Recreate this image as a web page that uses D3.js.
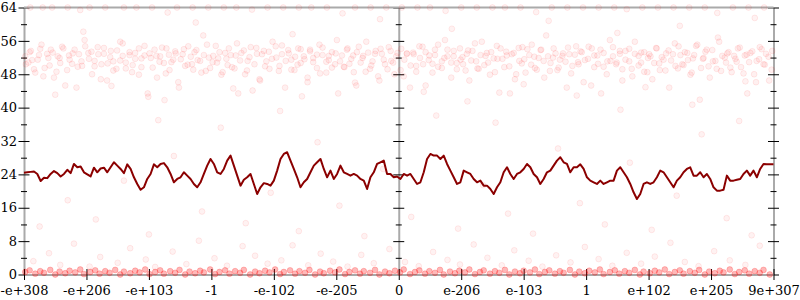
<!DOCTYPE html>
<html>
<head>
<meta charset="utf-8">
<script src="https://cdn.jsdelivr.net/npm/d3@7"></script>
<style>
    body { margin: 0; background: #fff; }
    svg { display: block; }
</style>
</head>
<body>
<svg id="chart" width="800" height="300"></svg>
<script>
// DATA
var xTickLabels = ["-e+308", "-e+206", "-e+103", "-1", "-e-102", "-e-205", "0",
    "e-206", "e-103", "1", "e+102", "e+205", "9e+307"];
var yTicks = [0, 8, 16, 24, 32, 40, 48, 56, 64];
var yMinorTicks = [4, 12, 20, 28, 36, 44, 52, 60];

// moving average, sampled evenly from left edge to right edge
var lineValues = [
    24.4, 24.5, 24.6, 24.7, 24.1, 22.4, 23.2, 23.1, 24.1, 24.8,
    24.3, 23.5, 24.1, 25.1, 24.3, 26.5, 25.7, 25.9, 24.5, 24.0,
    23.5, 25.6, 24.5, 25.4, 25.6, 24.5, 25.7, 26.9, 26.1, 25.3,
    24.3, 26.4, 25.3, 23.3, 21.7, 20.3, 20.9, 22.9, 24.1, 26.4,
    25.7, 26.5, 26.7, 25.7, 24.1, 22.1, 22.9, 23.3, 24.5, 23.7,
    22.9, 21.7, 20.9, 22.1, 24.1, 26.1, 27.7, 26.5, 24.5, 24.1,
    25.3, 27.3, 28.5, 26.1, 23.7, 21.3, 22.7, 23.3, 24.1, 21.7,
    19.3, 20.9, 21.9, 21.7, 21.3, 22.5, 24.9, 27.7,
    28.9, 29.3, 27.3, 25.3, 23.3, 20.9, 22.1, 22.9, 24.5, 26.1,
    26.9, 27.7, 25.3, 23.3, 24.9, 22.9, 24.1, 26.1, 24.5, 24.1,
    23.7, 24.1, 23.7, 22.9, 22.5, 20.5, 23.3, 24.5, 26.5, 26.9,
    27.3, 24.1, 24.1, 23.3, 23.5, 22.9, 24.1, 23.7, 24.1, 22.9,
    21.7, 22.1, 24.5, 27.7, 28.9, 28.5, 28.5, 27.7, 28.5, 26.5,
    24.9, 23.3, 21.7, 22.1, 24.9, 24.5, 24.1, 22.9, 22.1, 22.5,
    21.3, 21.3, 20.5, 19.3, 20.9, 22.1, 24.5, 25.7, 24.1, 22.9,
    24.1, 24.5, 25.3, 26.5, 25.7,
    24.1, 23.3, 21.7, 22.9, 24.5, 24.9, 26.1, 27.3, 28.1, 26.9,
    26.5, 24.5, 25.7, 25.7, 26.4, 25.3, 23.3, 22.5, 22.1, 21.7,
    22.5, 21.7, 22.1, 22.5, 22.5, 24.9, 25.7, 24.5, 23.3, 21.7,
    19.7, 18.1, 19.3, 21.7, 22.1, 21.7, 22.1, 23.3, 24.9, 24.5,
    23.3, 22.1, 20.9, 22.5, 23.3, 24.5, 25.3, 25.7, 23.7, 23.7,
    24.5, 23.3, 24.1, 22.9, 20.9, 20.1, 20.1, 20.3, 23.7, 22.5,
    22.5, 22.7, 22.9, 24.1, 24.9, 23.7, 24.9, 23.3, 25.3, 26.5,
    26.4, 26.4, 26.4
];

// dense cloud around 52
var bandPoints = [
    [-5.98, 52.3], [-5.93, 50.8], [-5.89, 53.6], [-5.84, 49.2], [-5.78, 51.5], [-5.74, 54.1], [-5.69, 47.5], [-5.63, 52.9], [-5.59, 50.1], [-5.54, 53.2],
    [-5.48, 48.6], [-5.43, 51.9], [-5.39, 54.6], [-5.34, 45.3], [-5.28, 52.5], [-5.23, 50.5], [-5.19, 53.9], [-5.14, 49.8], [-5.08, 51.1], [-5.03, 56.2],
    [-4.96, 51.7], [-4.92, 53.4], [-4.87, 49.9], [-4.81, 52.8], [-4.77, 46.8], [-4.72, 54.3], [-4.66, 50.6], [-4.62, 52.1], [-4.57, 48.9], [-4.51, 53.7],
    [-4.46, 51.3], [-4.42, 55.4], [-4.37, 49.4], [-4.31, 52.6], [-4.26, 50.2], [-4.22, 53.1], [-4.16, 47.9], [-4.12, 51.8], [-4.07, 54.8], [-4.01, 42.6],
    [-3.99, 53.0], [-3.94, 49.6], [-3.88, 52.4], [-3.83, 51.0], [-3.79, 54.4], [-3.73, 48.2], [-3.68, 52.7], [-3.64, 50.9], [-3.58, 53.5], [-3.53, 46.1],
    [-3.49, 51.6], [-3.44, 54.0], [-3.38, 50.3], [-3.33, 52.2], [-3.29, 49.1], [-3.24, 53.8], [-3.18, 51.2], [-3.13, 57.3], [-3.09, 48.8], [-3.04, 52.0],
    [-2.98, 50.9], [-2.93, 54.8], [-2.89, 51.8], [-2.84, 47.9], [-2.78, 53.1], [-2.74, 50.2], [-2.69, 52.6], [-2.63, 49.4], [-2.59, 55.4], [-2.54, 51.3],
    [-2.48, 53.7], [-2.43, 48.9], [-2.39, 52.1], [-2.34, 44.1], [-2.28, 54.3], [-2.23, 46.8], [-2.19, 52.8], [-2.14, 49.9], [-2.08, 53.4], [-2.03, 51.7],
    [-1.96, 52.0], [-1.92, 48.8], [-1.87, 54.9], [-1.81, 51.2], [-1.77, 53.8], [-1.72, 49.1], [-1.66, 52.2], [-1.62, 50.3], [-1.57, 54.0], [-1.51, 51.6],
    [-1.46, 46.1], [-1.42, 53.5], [-1.37, 50.9], [-1.31, 52.7], [-1.26, 48.2], [-1.22, 54.4], [-1.16, 51.0], [-1.12, 52.4], [-1.07, 49.6], [-1.01, 53.0],
    [-0.99, 56.2], [-0.94, 51.1], [-0.88, 49.8], [-0.83, 53.9], [-0.79, 50.5], [-0.73, 52.5], [-0.68, 45.3], [-0.64, 54.6], [-0.58, 51.9], [-0.53, 48.6],
    [-0.49, 53.2], [-0.44, 50.1], [-0.38, 52.9], [-0.33, 47.5], [-0.29, 54.1], [-0.24, 51.5], [-0.18, 49.2], [-0.13, 53.6], [-0.09, 50.8], [-0.04, 52.3],
    [0.04, 54.1], [0.08, 47.5], [0.13, 52.9], [0.19, 50.1], [0.23, 53.2], [0.28, 48.6], [0.34, 51.9], [0.38, 54.6], [0.43, 45.3], [0.49, 52.5],
    [0.54, 50.5], [0.58, 53.9], [0.63, 49.8], [0.69, 51.1], [0.74, 56.2], [0.78, 52.3], [0.84, 50.8], [0.88, 53.6], [0.93, 49.2], [0.99, 51.5],
    [1.02, 52.1], [1.07, 48.9], [1.11, 53.7], [1.16, 51.3], [1.22, 55.4], [1.26, 49.4], [1.31, 52.6], [1.37, 50.2], [1.41, 53.1], [1.46, 47.9],
    [1.52, 51.8], [1.57, 54.8], [1.61, 43.6], [1.66, 51.7], [1.72, 53.4], [1.77, 49.9], [1.81, 52.8], [1.86, 46.8], [1.92, 54.3], [1.97, 50.6],
    [2.01, 51.6], [2.06, 54.0], [2.12, 50.3], [2.17, 52.2], [2.21, 49.1], [2.27, 53.8], [2.32, 51.2], [2.36, 57.3], [2.42, 48.8], [2.47, 52.0],
    [2.51, 53.0], [2.56, 49.6], [2.62, 52.4], [2.67, 51.0], [2.71, 54.4], [2.76, 48.2], [2.82, 52.7], [2.87, 50.9], [2.91, 53.5], [2.96, 46.1],
    [3.04, 54.6], [3.08, 45.3], [3.13, 52.5], [3.19, 50.5], [3.23, 53.9], [3.28, 49.8], [3.34, 51.1], [3.38, 56.2], [3.43, 52.3], [3.49, 50.8],
    [3.54, 53.6], [3.58, 49.2], [3.63, 51.5], [3.69, 54.1], [3.74, 47.5], [3.78, 52.9], [3.84, 50.1], [3.88, 53.2], [3.93, 48.6], [3.99, 51.9],
    [4.01, 52.8], [4.06, 46.8], [4.12, 54.3], [4.17, 50.6], [4.21, 52.1], [4.27, 48.9], [4.32, 53.7], [4.36, 51.3], [4.42, 55.4], [4.47, 49.4],
    [4.51, 52.6], [4.56, 50.2], [4.62, 53.1], [4.67, 47.9], [4.71, 51.8], [4.76, 54.8], [4.82, 41.9], [4.87, 51.7], [4.91, 53.4], [4.96, 49.9],
    [5.02, 53.8], [5.07, 51.2], [5.11, 56.8], [5.16, 48.8], [5.22, 52.0], [5.26, 53.0], [5.31, 49.6], [5.37, 52.4], [5.41, 51.0], [5.46, 54.4],
    [5.52, 48.2], [5.57, 52.7], [5.61, 50.9], [5.66, 53.5], [5.72, 46.1], [5.77, 51.6], [5.81, 54.0], [5.86, 50.3], [5.92, 52.2], [5.97, 49.1]
];

var bandPoints2 = [
    [-5.97, 50.4], [-5.91, 53.3], [-5.87, 51.4], [-5.82, 48.4], [-5.76, 52.6], [-5.72, 55.1], [-5.67, 49.5], [-5.61, 51.9], [-5.57, 53.9], [-5.52, 47.2],
    [-5.46, 52.3], [-5.42, 50.7], [-5.37, 54.2], [-5.31, 49.0], [-5.27, 51.5], [-5.22, 53.0], [-5.16, 44.8], [-5.12, 52.8], [-5.07, 50.0], [-5.02, 54.7],
    [-4.97, 53.1], [-4.91, 48.0], [-4.87, 51.2], [-4.82, 54.5], [-4.76, 50.4], [-4.72, 52.9], [-4.67, 46.5], [-4.61, 53.6], [-4.57, 51.1], [-4.52, 49.3],
    [-4.46, 55.8], [-4.42, 52.4], [-4.37, 50.8], [-4.31, 53.3], [-4.27, 48.5], [-4.22, 51.7], [-4.16, 54.2], [-4.12, 49.7], [-4.07, 52.5], [-4.02, 43.4],
    [-3.97, 51.9], [-3.91, 53.9], [-3.87, 47.2], [-3.82, 52.3], [-3.76, 50.7], [-3.72, 54.2], [-3.67, 49.0], [-3.61, 51.5], [-3.57, 53.0], [-3.52, 44.8],
    [-3.46, 52.8], [-3.42, 50.0], [-3.37, 54.7], [-3.31, 50.4], [-3.27, 53.3], [-3.22, 51.4], [-3.16, 48.4], [-3.12, 52.6], [-3.07, 55.1], [-3.02, 49.5],
    [-2.97, 52.4], [-2.91, 50.8], [-2.87, 53.3], [-2.82, 48.5], [-2.76, 51.7], [-2.72, 54.2], [-2.67, 49.7], [-2.61, 52.5], [-2.57, 43.4], [-2.52, 53.1],
    [-2.46, 48.0], [-2.42, 51.2], [-2.37, 54.5], [-2.31, 50.4], [-2.27, 52.9], [-2.22, 46.5], [-2.16, 53.6], [-2.12, 51.1], [-2.07, 49.3], [-2.02, 55.8],
    [-1.97, 54.7], [-1.91, 50.0], [-1.87, 52.8], [-1.82, 44.8], [-1.76, 53.0], [-1.72, 51.5], [-1.67, 49.0], [-1.61, 54.2], [-1.57, 50.7], [-1.52, 52.3],
    [-1.46, 47.2], [-1.42, 53.9], [-1.37, 51.9], [-1.31, 49.5], [-1.27, 55.1], [-1.22, 52.6], [-1.16, 48.4], [-1.12, 51.4], [-1.07, 53.3], [-1.02, 50.4],
    [-0.97, 43.4], [-0.91, 52.5], [-0.87, 49.7], [-0.82, 54.2], [-0.76, 51.7], [-0.72, 48.5], [-0.67, 53.3], [-0.61, 50.8], [-0.57, 52.4], [-0.52, 55.8],
    [-0.46, 49.3], [-0.42, 51.1], [-0.37, 53.6], [-0.31, 46.5], [-0.27, 52.9], [-0.22, 50.4], [-0.16, 54.5], [-0.12, 51.2], [-0.07, 48.0], [-0.02, 53.1],
    [0.03, 49.0], [0.09, 51.5], [0.13, 53.0], [0.18, 44.8], [0.24, 52.8], [0.28, 50.0], [0.33, 54.7], [0.39, 50.4], [0.43, 53.3], [0.48, 51.4],
    [0.54, 48.4], [0.58, 52.6], [0.63, 55.1], [0.69, 49.5], [0.73, 51.9], [0.78, 53.9], [0.84, 47.2], [0.88, 52.3], [0.93, 50.7], [0.98, 54.2],
    [1.03, 50.4], [1.09, 52.9], [1.13, 46.5], [1.18, 53.6], [1.24, 51.1], [1.28, 49.3], [1.33, 55.8], [1.39, 52.4], [1.43, 50.8], [1.48, 53.3],
    [1.54, 48.5], [1.58, 51.7], [1.63, 54.2], [1.69, 49.7], [1.73, 52.5], [1.78, 43.4], [1.84, 53.1], [1.88, 48.0], [1.93, 51.2], [1.98, 54.5],
    [2.03, 48.4], [2.09, 52.6], [2.13, 55.1], [2.18, 49.5], [2.24, 51.9], [2.28, 53.9], [2.33, 47.2], [2.39, 52.3], [2.43, 50.7], [2.48, 54.2],
    [2.54, 49.0], [2.58, 51.5], [2.63, 53.0], [2.69, 44.8], [2.73, 52.8], [2.78, 50.0], [2.84, 54.7], [2.88, 50.4], [2.93, 53.3], [2.98, 51.4],
    [3.03, 51.7], [3.09, 54.2], [3.13, 49.7], [3.18, 52.5], [3.24, 43.4], [3.28, 53.1], [3.33, 48.0], [3.39, 51.2], [3.43, 54.5], [3.48, 50.4],
    [3.54, 52.9], [3.58, 46.5], [3.63, 53.6], [3.69, 51.1], [3.73, 49.3], [3.78, 55.8], [3.84, 52.4], [3.88, 50.8], [3.93, 53.3], [3.98, 48.5],
    [4.03, 52.3], [4.09, 50.7], [4.13, 54.2], [4.18, 49.0], [4.24, 51.5], [4.28, 53.0], [4.33, 44.8], [4.39, 52.8], [4.43, 50.0], [4.48, 54.7],
    [4.54, 50.4], [4.58, 53.3], [4.63, 51.4], [4.69, 48.4], [4.73, 52.6], [4.78, 55.1], [4.84, 49.5], [4.88, 51.9], [4.93, 53.9], [4.98, 47.2],
    [5.03, 51.1], [5.09, 49.3], [5.13, 55.8], [5.18, 52.4], [5.24, 50.8], [5.28, 53.3], [5.33, 48.5], [5.39, 51.7], [5.43, 54.2], [5.48, 49.7],
    [5.54, 52.5], [5.58, 43.4], [5.63, 53.1], [5.69, 48.0], [5.73, 51.2], [5.78, 54.5], [5.84, 50.4], [5.88, 52.9], [5.93, 46.5], [5.98, 53.6]
];

// dense strip just above zero
var bottomPoints = [
    [-5.98, 0.6], [-5.91, 1.0], [-5.82, 0.2], [-5.74, 0.8], [-5.68, 0.4], [-5.58, 1.1], [-5.50, 0.0], [-5.43, 0.7], [-5.34, 0.3], [-5.27, 0.9],
    [-5.18, 0.5], [-5.10, 1.2], [-5.04, 0.1], [-4.94, 0.6], [-4.86, 1.0], [-4.79, 0.2], [-4.70, 0.8], [-4.63, 0.4], [-4.54, 1.1], [-4.46, 0.0],
    [-4.40, 0.7], [-4.30, 0.3], [-4.22, 0.9], [-4.15, 0.5], [-4.06, 1.2], [-3.99, 0.1], [-3.90, 0.6], [-3.82, 1.0], [-3.76, 0.2], [-3.66, 0.8],
    [-3.58, 0.4], [-3.51, 1.1], [-3.42, 0.0], [-3.35, 0.7], [-3.26, 0.3], [-3.18, 0.9], [-3.12, 0.5], [-3.02, 1.2], [-2.94, 0.1], [-2.87, 0.6],
    [-2.78, 1.0], [-2.71, 0.2], [-2.62, 0.8], [-2.54, 0.4], [-2.48, 1.1], [-2.38, 0.0], [-2.30, 0.7], [-2.23, 0.3], [-2.14, 0.9], [-2.07, 0.5],
    [-1.98, 1.2], [-1.90, 0.1], [-1.84, 0.6], [-1.74, 1.0], [-1.66, 0.2], [-1.59, 0.8], [-1.50, 0.4], [-1.43, 1.1], [-1.34, 0.0], [-1.26, 0.7],
    [-1.20, 0.3], [-1.10, 0.9], [-1.02, 0.5], [-0.95, 1.2], [-0.86, 0.1], [-0.79, 0.6], [-0.70, 1.0], [-0.62, 0.2], [-0.56, 0.8], [-0.46, 0.4],
    [-0.38, 1.1], [-0.31, 0.0], [-0.22, 0.7], [-0.15, 0.3], [-0.06, 0.9], [0.02, 0.5], [0.08, 1.2], [0.18, 0.1], [0.26, 0.6], [0.33, 1.0],
    [0.42, 0.2], [0.49, 0.8], [0.58, 0.4], [0.66, 1.1], [0.72, 0.0], [0.82, 0.7], [0.90, 0.3], [0.97, 0.9], [1.06, 0.5], [1.13, 1.2],
    [1.22, 0.1], [1.30, 0.6], [1.36, 1.0], [1.46, 0.2], [1.54, 0.8], [1.61, 0.4], [1.70, 1.1], [1.77, 0.0], [1.86, 0.7], [1.94, 0.3],
    [2.00, 0.9], [2.10, 0.5], [2.18, 1.2], [2.25, 0.1], [2.34, 0.6], [2.41, 1.0], [2.50, 0.2], [2.58, 0.8], [2.64, 0.4], [2.74, 1.1],
    [2.82, 0.0], [2.89, 0.7], [2.98, 0.3], [3.05, 0.9], [3.14, 0.5], [3.22, 1.2], [3.28, 0.1], [3.38, 0.6], [3.46, 1.0], [3.53, 0.2],
    [3.62, 0.8], [3.69, 0.4], [3.78, 1.1], [3.86, 0.0], [3.92, 0.7], [4.02, 0.3], [4.10, 0.9], [4.17, 0.5], [4.26, 1.2], [4.33, 0.1],
    [4.42, 0.6], [4.50, 1.0], [4.56, 0.2], [4.66, 0.8], [4.74, 0.4], [4.81, 1.1], [4.90, 0.0], [4.97, 0.7], [5.06, 0.3], [5.14, 0.9],
    [5.20, 0.5], [5.30, 1.2], [5.38, 0.1], [5.45, 0.6], [5.54, 1.0], [5.61, 0.2], [5.70, 0.8], [5.78, 0.4], [5.84, 1.1], [5.94, 0.0]
];

// points sitting on the top value
var topPoints = [
    [-5.9, 64], [-5.7, 64], [-5.55, 64], [-5.3, 64], [-5.1, 63.4], [-4.95, 64], [-4.7, 64], [-4.4, 64], [-4.2, 64], [-3.95, 64],
    [-3.7, 62.8], [-3.55, 64], [-3.3, 64], [-3.05, 64], [-2.8, 64], [-2.6, 64], [-2.35, 63.5], [-2.1, 64], [-1.85, 64], [-1.6, 64],
    [-1.4, 64], [-1.15, 64], [-0.9, 62.6], [-0.7, 64], [-0.45, 64], [-0.2, 64], [0.05, 64], [0.3, 64], [0.5, 64], [0.75, 63.2],
    [1.0, 64], [1.25, 64], [1.5, 64], [1.7, 64], [1.95, 64], [2.2, 62.9], [2.45, 64], [2.7, 64], [2.95, 64], [3.2, 64],
    [3.45, 64], [3.65, 63.6], [3.9, 64], [4.15, 64], [4.4, 64], [4.65, 64], [4.9, 64], [5.1, 62.7], [5.35, 64], [5.6, 64], [5.85, 64]
];

// scattered points in between
var sparsePoints = [
    [-5.85, 3.2], [-5.6, 5.1], [-5.42, 2.3], [-5.2, 7.4], [-4.95, 1.9], [-4.78, 4.2], [-4.5, 2.8], [-4.3, 6.3], [-4.05, 3.6], [-3.9, 1.8],
    [-3.62, 5.5], [-3.4, 2.5], [-3.2, 8.1], [-2.95, 3.9], [-2.75, 2.1], [-2.5, 6.8], [-2.3, 4.5], [-2.1, 2.6], [-1.88, 3.4], [-1.7, 7.0],
    [-1.45, 2.2], [-1.25, 5.0], [-1.05, 3.1], [-0.82, 1.9], [-0.6, 4.7], [-0.4, 2.7], [-0.15, 6.1], [0.1, 3.0], [0.32, 2.0], [0.55, 5.4],
    [0.78, 3.5], [0.98, 2.4], [1.2, 7.2], [1.42, 4.0], [1.65, 2.2], [1.85, 5.8], [2.08, 3.3], [2.3, 1.9], [2.52, 4.6], [2.75, 2.9],
    [2.98, 6.6], [3.2, 3.7], [3.42, 2.1], [3.65, 5.2], [3.88, 2.6], [4.1, 4.3], [4.35, 7.6], [4.58, 3.0], [4.8, 2.0], [5.05, 5.6],
    [5.3, 3.4], [5.55, 2.3], [5.78, 6.9],
    [-5.75, 11.5], [-5.3, 17.8], [-4.85, 13.2], [-4.4, 22.5], [-4.0, 9.6], [-3.6, 28.4], [-3.15, 15.1], [-2.85, 35.2], [-2.45, 12.3], [-2.05, 19.6],
    [-1.6, 10.4], [-1.3, 31.7], [-0.95, 16.5], [-0.55, 9.2], [-0.25, 25.3], [0.2, 13.8], [0.6, 38.1], [0.95, 11.0], [1.35, 21.4], [1.75, 14.6],
    [2.15, 9.8], [2.55, 30.2], [2.9, 17.1], [3.3, 12.0], [3.7, 26.8], [4.05, 10.7], [4.45, 18.9], [4.85, 33.6], [5.25, 13.5], [5.65, 9.4],
    [-3.85, 37.0], [-1.9, 39.2], [1.55, 36.4], [3.55, 39.5], [5.45, 36.8],
    [-5.5, 43.1], [-4.6, 45.2], [-3.75, 41.8], [-2.65, 44.6], [-1.55, 42.7], [-0.7, 46.0], [0.4, 43.8], [1.1, 41.5], [2.0, 45.6], [2.85, 42.9],
    [3.95, 44.9], [4.7, 40.7], [5.55, 46.3], [-5.05, 58.2], [-3.25, 60.4], [-1.7, 57.6], [-0.3, 61.2], [0.85, 58.9], [2.4, 60.8], [3.5, 57.9],
    [4.5, 59.6], [5.7, 61.5]
];

// SCALES
var x = d3.scaleLinear().domain([-6, 6]).range([24, 773.5]);
var y = d3.scaleLinear().domain([0, 64]).range([274.5, 7.5]);
var xTicks = xTickLabels.map((d, i) => i - 6);
var lineX = d3.scaleLinear().domain([0, lineValues.length - 1]).range(x.domain());

var svg = d3.select("#chart");
var font = '"DejaVu Serif", serif';

// vertical axes: left (labelled), middle and right
function drawYAxis(xPos, labelled) {
    var g = svg.append("g")
        .attr("transform", "translate(" + xPos + ",0)");
    g.call(d3.axisLeft(y).tickValues(yTicks).tickSize(0).tickPadding(7)
        .tickFormat(labelled ? d3.format("d") : ""));
    g.attr("font-family", font).attr("font-size", 13);
    g.select(".domain").attr("stroke", "#aaa").attr("stroke-width", 2);
    g.selectAll(".tick line").attr("x1", -5.5).attr("x2", 5.5).attr("stroke", "#000");
    g.selectAll(".tick text").attr("fill", "#000");

    var m = svg.append("g")
        .attr("transform", "translate(" + xPos + ",0)")
        .call(d3.axisLeft(y).tickValues(yMinorTicks).tickSize(0).tickFormat(""));
    m.select(".domain").remove();
    m.selectAll(".tick line").attr("x1", -3).attr("x2", 3).attr("stroke", "#000");
}

drawYAxis(x(-6), true);
drawYAxis(x(0), false);
drawYAxis(x(6), false);

// top frame line
svg.append("line")
    .attr("x1", x(-6)).attr("x2", x(6))
    .attr("y1", y(64)).attr("y2", y(64))
    .attr("stroke", "#aaa")
    .attr("stroke-width", 2);

// bottom axis
var gx = svg.append("g")
    .attr("transform", "translate(0," + y(0) + ")")
    .call(d3.axisBottom(x).tickValues(xTicks).tickSize(0)
        .tickFormat((d, i) => xTickLabels[i]));
gx.attr("font-family", font).attr("font-size", 13);
gx.select(".domain").attr("stroke", "#aaa").attr("stroke-width", 2);
gx.selectAll(".tick line").attr("y1", -5.5).attr("y2", 5.5).attr("stroke", "#000");
gx.selectAll(".tick text").attr("y", 20).attr("dy", 0).attr("fill", "#000");

// POINTS
function drawPoints(points, fillOp, strokeOp) {
    svg.append("g")
        .selectAll("circle")
        .data(points)
        .enter()
        .append("circle")
        .attr("cx", d => x(d[0]))
        .attr("cy", d => y(d[1]))
        .attr("r", 2.9)
        .attr("fill", "#f00")
        .attr("fill-opacity", fillOp)
        .attr("stroke", "#f00")
        .attr("stroke-opacity", strokeOp);
}

drawPoints(bottomPoints, 0.28, 0.2);
drawPoints(sparsePoints, 0.05, 0.08);
drawPoints(bandPoints, 0.06, 0.08);
drawPoints(bandPoints2, 0.06, 0.08);
drawPoints(topPoints, 0.05, 0.08);

// moving average line
var line = d3.line()
    .x((d, i) => x(lineX(i)))
    .y(d => y(d));

svg.append("path")
    .datum(lineValues)
    .attr("d", line)
    .attr("fill", "none")
    .attr("stroke", "#8b0000")
    .attr("stroke-width", 2)
    .attr("stroke-linejoin", "round");
</script>
</body>
</html>
